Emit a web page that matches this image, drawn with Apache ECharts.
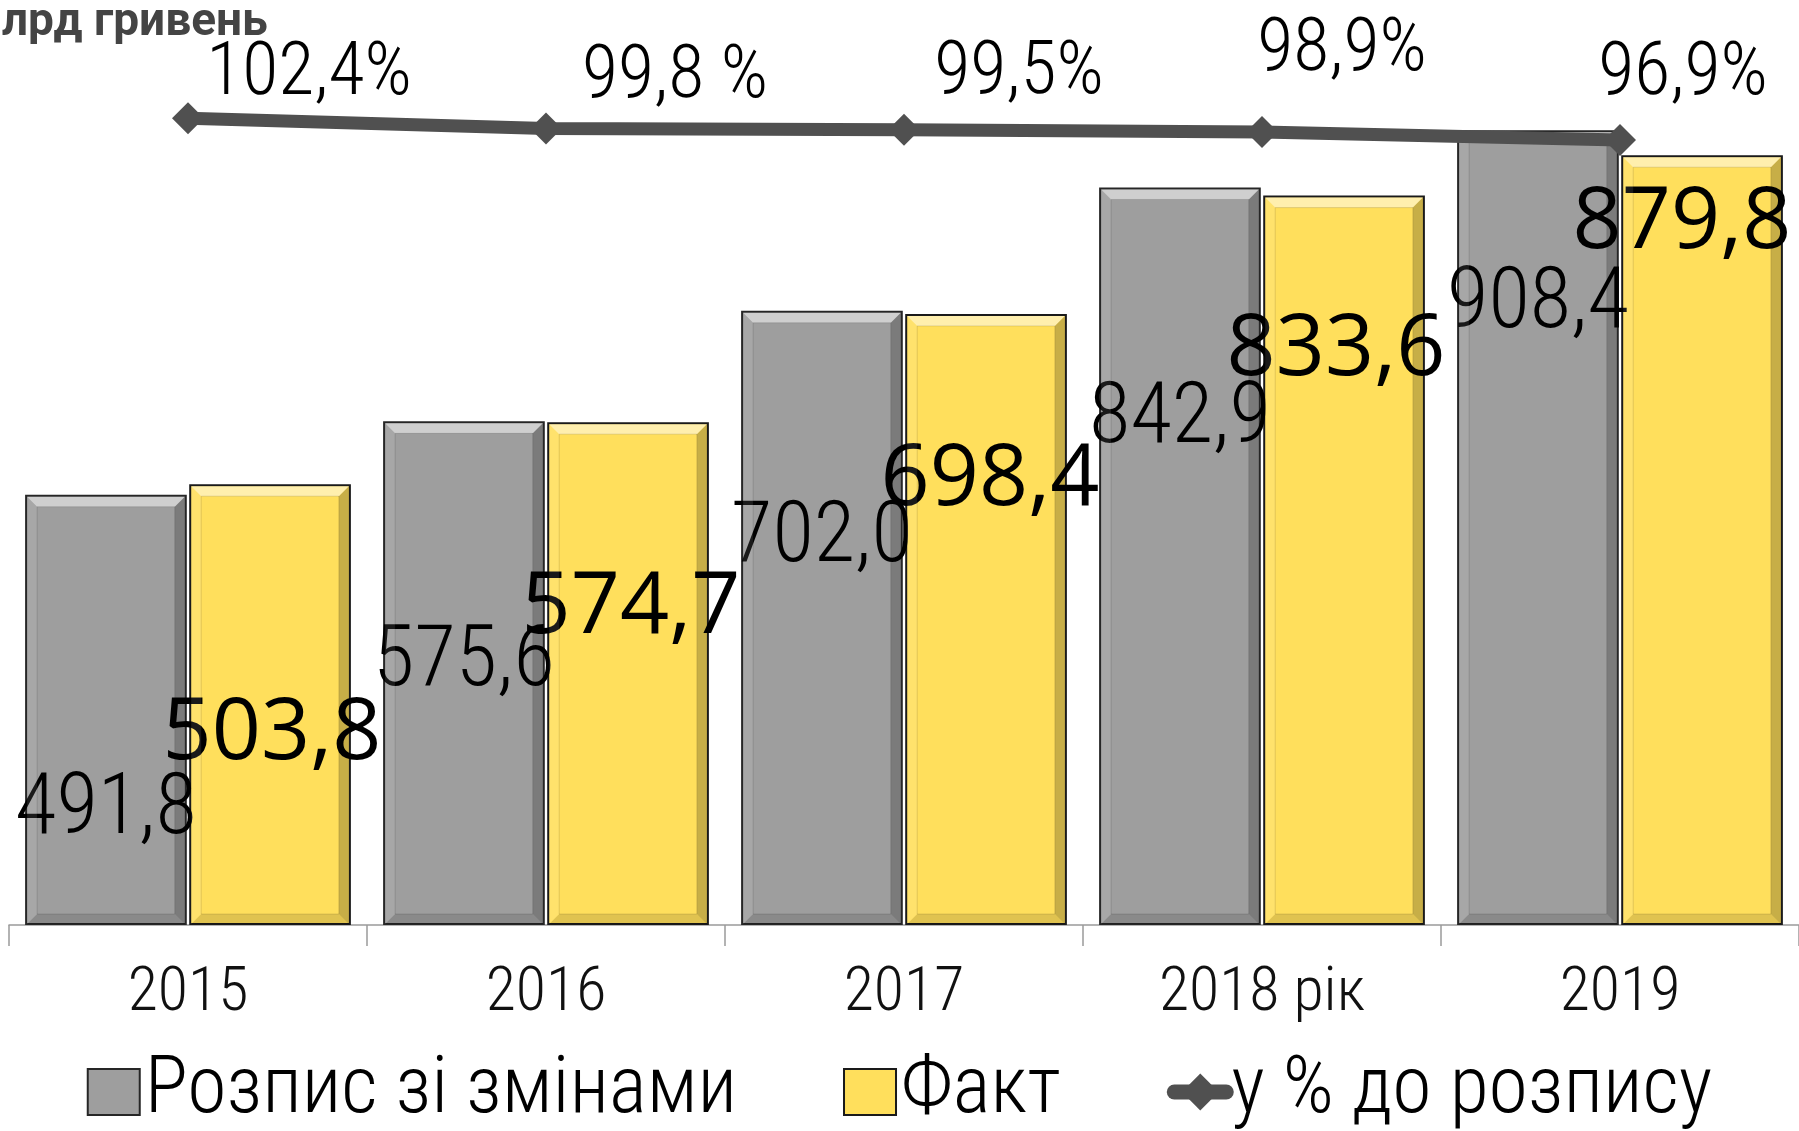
<!DOCTYPE html>
<html>
<head>
<meta charset="utf-8">
<script src="https://cdn.jsdelivr.net/npm/echarts@6/dist/echarts.min.js"></script>
<style>
  html, body { margin: 0; padding: 0; background: #fff; }
  #chart { width: 1799px; height: 1131px; }
</style>
</head>
<body>
<div id="chart"></div>
<script>
const years = ['2015', '2016', '2017', '2018 рік', '2019']
const planned = [491.8, 575.6, 702.0, 842.9, 908.4]
const actual = [503.8, 574.7, 698.4, 833.6, 879.8]
const percent = [102.4, 99.8, 99.5, 98.9, 96.9]
const percentText = ['102,4%', '99,8 %', '99,5%', '98,9%', '96,9%']

// label nudges in px (labels were hand-placed in the original)
const plannedLabelDy = [317, 242, 229, 233, 176]
const actualLabelDy = [250, 186, 167, 155, 68]
const actualLabelDx = [2, 3, 4, -8, -20]
const percentLabelDx = [121, 129, 115, 80, 63]
const percentLabelDy = [-43, -50, -55, -81, -65]

const CAT_GAP = 0.09
const BAR_GAP = 0.015
const THIN = 'Roboto'
const LIGHT = '300 condensed' // light weight, condensed width
const BIG = 'Open Sans'

const fmt = v => v.toFixed(1).replace('.', ',')

// inner bevel frame drawn on top of each bar
function bevel(slot) {
    return function (params, api) {
        const i = api.value(0)
        const top = api.coord([i, api.value(1)])
        const base = api.coord([i, 0])
        const band = api.size([1, 0])[0]
        const w = band * (1 - CAT_GAP) / (2 + BAR_GAP)
        const x = top[0] - (w * 2 + w * BAR_GAP) / 2 + slot * (w + w * BAR_GAP) + 2
        const y = top[1] + 2
        const bw = w - 4
        const h = base[1] - top[1] - 3
        const t = 10
        const poly = (pts, fill) => ({ type: 'polygon', shape: { points: pts }, style: { fill: fill } })
        return {
            type: 'group',
            children: [
                poly([[x, y], [x + bw, y], [x + bw - t, y + t], [x + t, y + t]], 'rgba(255,255,255,0.5)'),
                poly([[x, y], [x + t, y + t], [x + t, y + h - t], [x, y + h]], 'rgba(255,255,255,0.1)'),
                poly([[x + bw, y], [x + bw - t, y + t], [x + bw - t, y + h - t], [x + bw, y + h]], 'rgba(0,0,0,0.22)'),
                poly([[x, y + h], [x + t, y + h - t], [x + bw - t, y + h - t], [x + bw, y + h]], 'rgba(0,0,0,0.12)'),
                {
                    type: 'rect',
                    shape: { x: x + t, y: y + t, width: bw - 2 * t, height: h - 2 * t },
                    style: { fill: 'none', stroke: 'rgba(0,0,0,0.12)', lineWidth: 1 }
                }
            ]
        }
    }
}

const chart = echarts.init(document.getElementById('chart'))
chart.setOption({
    animation: false,
    graphic: [{
        type: 'text',
        x: -33,
        y: 0,
        style: {
            text: 'млрд гривень',
            fontFamily: THIN,
            fontWeight: 'bold',
            fontSize: 46,
            fill: '#444'
        }
    }],
    legend: {
        data: [
            { name: 'Розпис зі змінами', icon: 'rect' },
            { name: 'Факт', icon: 'rect' },
            { name: 'у % до розпису', lineStyle: { width: 15, cap: 'round' } }
        ],
        left: 'center',
        top: 1047,
        itemWidth: 52,
        itemHeight: 46,
        itemGap: 106,
        textStyle: {
            fontFamily: THIN,
            fontWeight: LIGHT,
            fontSize: 80,
            lineHeight: 80,
            color: '#000'
        }
    },
    grid: {
        left: 9,
        right: -8,
        top: 50,
        bottom: 206
    },
    xAxis: {
        type: 'category',
        data: years,
        axisLine: { lineStyle: { color: '#9a9a9a', width: 1.5 } },
        axisTick: { show: true, length: 21, lineStyle: { color: '#9a9a9a', width: 1.5 } },
        axisLabel: {
            fontFamily: THIN,
            fontWeight: LIGHT,
            fontSize: 62,
            color: '#111',
            margin: 38
        }
    },
    yAxis: [
        { type: 'value', min: 0, max: 1000, show: false },
        { type: 'value', min: -100, max: 119.5, show: false }
    ],
    series: [
        {
            name: 'Розпис зі змінами',
            type: 'bar',
            barCategoryGap: CAT_GAP * 100 + '%',
            barGap: BAR_GAP * 100 + '%',
            itemStyle: { color: '#9e9e9e', borderColor: '#262626', borderWidth: 2 },
            label: {
                show: true,
                align: 'center',
                verticalAlign: 'middle',
                fontFamily: THIN,
                fontWeight: LIGHT,
                fontSize: 85,
                color: '#000',
                formatter: p => fmt(p.value)
            },
            data: planned.map((v, i) => ({ value: v, label: { position: ['50%', plannedLabelDy[i]] } }))
        },
        {
            name: 'Факт',
            type: 'bar',
            barCategoryGap: CAT_GAP * 100 + '%',
            barGap: BAR_GAP * 100 + '%',
            itemStyle: { color: '#ffdf5c', borderColor: '#1a1a1a', borderWidth: 2 },
            label: {
                show: true,
                align: 'center',
                verticalAlign: 'middle',
                fontFamily: BIG,
                fontWeight: 'normal',
                fontSize: 86,
                color: '#000',
                formatter: p => fmt(p.value)
            },
            data: actual.map((v, i) => ({
                value: v,
                label: { position: ['50%', actualLabelDy[i]], offset: [actualLabelDx[i], 0] }
            }))
        },
        {
            type: 'custom',
            z: 3,
            silent: true,
            renderItem: bevel(0),
            data: planned.map((v, i) => [i, v])
        },
        {
            type: 'custom',
            z: 3,
            silent: true,
            renderItem: bevel(1),
            data: actual.map((v, i) => [i, v])
        },
        {
            name: 'у % до розпису',
            type: 'line',
            yAxisIndex: 1,
            z: 5,
            symbol: 'diamond',
            symbolSize: 32,
            lineStyle: { color: '#505050', width: 13 },
            itemStyle: { color: '#505050' },
            label: {
                show: true,
                position: 'inside',
                fontFamily: THIN,
                fontWeight: LIGHT,
                fontSize: 74,
                color: '#000',
                formatter: p => percentText[p.dataIndex]
            },
            data: percent.map((v, i) => ({ value: v, label: { offset: [percentLabelDx[i], percentLabelDy[i]] } }))
        }
    ]
})

window.addEventListener('resize', () => {
    chart.resize()
})
</script>
</body>
</html>
